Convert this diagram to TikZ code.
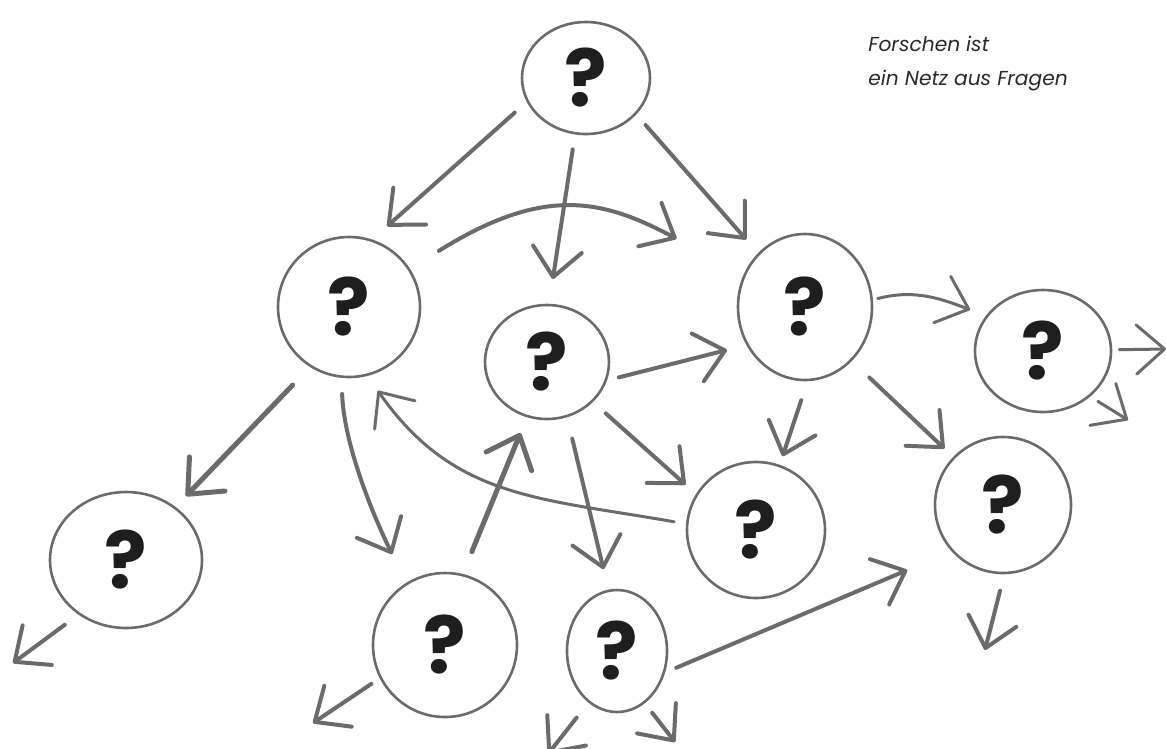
\documentclass[tikz,border=0pt]{standalone}
\usepackage{fontspec}
\setmainfont{Poppins}
\usetikzlibrary{arrows.meta,shapes.geometric}
\newdimen\pxu \pxu=0.02cm
\definecolor{linegray}{HTML}{6B6B6B}
\definecolor{qblack}{HTML}{1E1E1E}
\definecolor{textgray}{HTML}{2A2A2A}
\begin{document}
\begin{tikzpicture}[x=0.02cm,y=0.02cm,
  q/.style={ellipse, draw=linegray, line width=2.6\pxu, inner sep=0pt,
    font=\fontsize{45}{45}\selectfont\bfseries, text=qblack},
  arr/.style={draw=linegray, line width=4\pxu, line cap=round,
    -{Straight Barb[length=16pt,width=28pt,round]}},
  thinarr/.style={arr, line width=3\pxu},
  note/.style={anchor=base west, font=\fontsize{11.5}{13}\selectfont\itshape, text=textgray, inner sep=0pt}
]
\useasboundingbox (0,0) rectangle (1166,-748);

% question nodes
\node[q, minimum width=128\pxu, minimum height=112\pxu] (n1) at (586,-78) {?};
\node[q, minimum width=142\pxu, minimum height=140\pxu] (n2) at (349,-307) {?};
\node[q, minimum width=124\pxu, minimum height=114\pxu] (n3) at (547,-362) {?};
\node[q, minimum width=134\pxu, minimum height=146\pxu] (n4) at (805,-307) {?};
\node[q, minimum width=136\pxu, minimum height=122\pxu] (n5) at (1043,-351) {?};
\node[q, minimum width=138\pxu, minimum height=136\pxu] (n6) at (756,-530) {?};
\node[q, minimum width=136\pxu, minimum height=136\pxu] (n7) at (1003,-505) {?};
\node[q, minimum width=152\pxu, minimum height=136\pxu] (n8) at (126,-560) {?};
\node[q, minimum width=144\pxu, minimum height=144\pxu] (n9) at (445,-645) {?};
\node[q, minimum width=100\pxu, minimum height=122\pxu] (n10) at (617,-651) {?};

% free ends
\coordinate (o5a) at (1166,-349);
\coordinate (o5b) at (1128,-420);
\coordinate (o7) at (985,-650);
\coordinate (o8) at (13,-663);
\coordinate (o9) at (313,-723);
\coordinate (o10a) at (548,-754);
\coordinate (o10b) at (675,-742);

% connectors
\draw[arr, shorten <=16\pxu, shorten >=20\pxu] (n1.202) -- (n2.71);
\draw[arr, shorten <=15\pxu, shorten >=25\pxu] (n1.259) -- (n3.88);
\draw[arr, shorten <=14\pxu, shorten >=18\pxu] (n1.324) -- (n4.131);
\draw[arr, shorten <=34\pxu, shorten >=76\pxu] (n2.32) .. controls +(32:159) and +(152:159) .. (n4.152);
\draw[arr, shorten <=12\pxu, shorten >=20\pxu] (n3.343) -- (n4.213);
\draw[thinarr, shorten <=5\pxu, shorten >=17\pxu] (n4.6) to[out=15,in=160] (n5.148);
\draw[thinarr, shorten <=7\pxu] (n5.1) -- (o5a);
\draw[thinarr, shorten <=9\pxu] (n5.316) -- (o5b);
\draw[arr, shorten <=20\pxu, shorten >=9\pxu] (n4.272) -- (n6.70);
\draw[arr, shorten <=24\pxu, shorten >=12\pxu] (n4.311) -- (n7.136);
\draw[arr, shorten <=17\pxu, shorten >=14\pxu] (n3.319) -- (n6.149);
\draw[thinarr, shorten <=12\pxu, shorten >=18\pxu] (n6.175) .. controls +(170:150) and +(305:150) .. (n2.285);
\draw[arr, line width=5\pxu, shorten <=25\pxu, shorten >=15\pxu] (n2.237) -- (n8.47);
\draw[arr, shorten <=16\pxu, shorten >=32\pxu] (n2.264) .. controls +(272:60) and +(116:90) .. (n9.122);
\draw[arr, line width=5\pxu, shorten <=24\pxu, shorten >=17\pxu] (n9.76) -- (n3.250);
\draw[arr, shorten <=22\pxu, shorten >=21\pxu] (n3.290) -- (n10.98);
\draw[arr, shorten <=12\pxu, shorten >=48\pxu] (n10.336) -- (n7.222);
\draw[arr, shorten <=17\pxu] (n7.271) -- (o7);
\draw[arr, shorten <=17\pxu] (n8.229) -- (o8);
\draw[arr, shorten <=10\pxu] (n9.207) -- (o9);
\draw[arr, shorten <=19\pxu] (n10.241) -- (o10a);
\draw[arr, shorten <=12\pxu] (n10.298) -- (o10b);

% caption
\node[note] (t1) at (868,-51) {Forschen ist};
\node[note] (t2) at (868,-85) {ein Netz aus Fragen};
\end{tikzpicture}
\end{document}
